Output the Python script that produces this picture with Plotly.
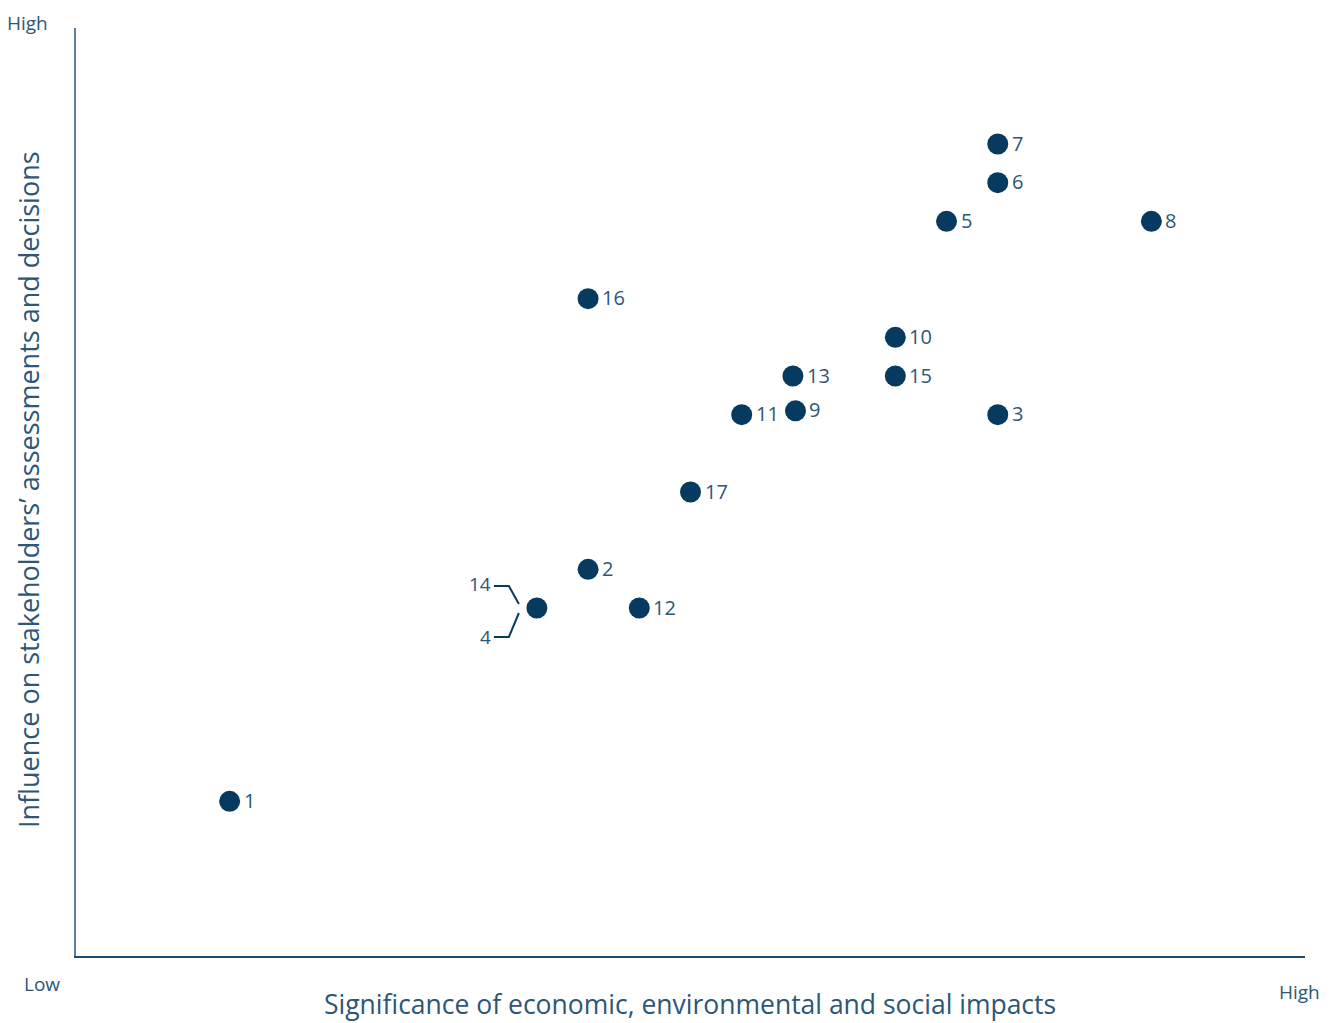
import plotly.graph_objects as go

# ---- data ----
labels = ["1", "2", "3", "4/14", "5", "6", "7", "8", "9", "10",
          "11", "12", "13", "15", "16", "17"]
significance = [3, 10, 18, 9, 17, 18, 18, 21, 14.05, 16,
                13, 11, 14, 16, 10, 12]
influence = [4, 10, 14, 9, 19, 20, 21, 19, 14.1, 16,
             14, 9, 15, 15, 17, 12]
point_text = ["1", "2", "3", "", "5", "6", "7", "8", "9", "10",
              "11", "12", "13", "15", "16", "17"]

x_range = [0, 24]
y_range = [0, 24]

x_title = "Significance of economic, environmental and social impacts"
y_title = "Influence on stakeholders’ assessments and decisions"

MARK = "#073a5f"
TXT = "#2d5677"
FONT = "Open Sans"

OFF = 8  # page body margin
W, H = 1321, 1015
ML, MR, MT, MB = 68, 24, 20, 67
pw, ph = W - ML - MR, H - MT - MB
sx = pw / (x_range[1] - x_range[0])
sy = ph / (y_range[1] - y_range[0])


def paper(page_x, page_y):
    return (page_x - OFF - ML) / pw, 1 - (page_y - OFF - MT) / ph


fig = go.Figure()
fig.add_trace(go.Scatter(
    x=significance, y=influence, mode="markers",
    marker=dict(size=21, color=MARK, line=dict(width=0)),
    hovertext=labels, hoverinfo="text", showlegend=False,
))

annotations = []
for x, y, t in zip(significance, influence, point_text):
    if not t:
        continue
    annotations.append(dict(
        x=x, y=y, xref="x", yref="y", text=t, showarrow=False,
        xanchor="left", yanchor="middle", xshift=12, yshift=1,
        font=dict(family=FONT, size=20, color=TXT)))

# bracket for the combined 14 / 4 point (pixel offsets from the point)
bx, by = significance[3], influence[3]


def px(dx, dy):
    return bx + dx / sx, by - dy / sy


top = [px(-43, -22), px(-28, -22), px(-18, -4)]
bot = [px(-43, 29), px(-28, 29), px(-18, 5)]
shapes = []
for seg in (top, bot):
    path = "M {} {} L {} {} L {} {}".format(seg[0][0], seg[0][1], seg[1][0], seg[1][1],
                                            seg[2][0], seg[2][1])
    shapes.append(dict(type="path", path=path, xref="x", yref="y",
                       line=dict(color=MARK, width=2)))
annotations.append(dict(x=top[0][0], y=top[0][1], xref="x", yref="y", text="14",
                        showarrow=False, xanchor="right", yanchor="middle", xshift=-1, yshift=2,
                        font=dict(family=FONT, size=19, color=TXT)))
annotations.append(dict(x=bot[0][0], y=bot[0][1], xref="x", yref="y", text="4",
                        showarrow=False, xanchor="right", yanchor="middle", xshift=-1, yshift=0,
                        font=dict(family=FONT, size=19, color=TXT)))

# corner labels
corner = [("High", 27, 9, "top"), ("Low", 42, 984, "middle"), ("High", 1299, 992, "middle")]
for t, cx, cy, ya in corner:
    ax, ay = paper(cx, cy)
    annotations.append(dict(x=ax, y=ay, xref="paper", yref="paper",
                            text=t, showarrow=False, xanchor="center", yanchor=ya, borderpad=0,
                            font=dict(family=FONT, size=19, color=TXT)))

# axis titles
ax, ay = paper(690, 1004)
annotations.append(dict(x=ax, y=ay, xref="paper", yref="paper", text=x_title,
                        showarrow=False, xanchor="center", yanchor="middle",
                        font=dict(family=FONT, size=26.5, color=TXT)))
ax, ay = paper(29, 490)
annotations.append(dict(x=ax, y=ay, xref="paper", yref="paper", text=y_title,
                        showarrow=False, xanchor="center", yanchor="middle", textangle=-90,
                        font=dict(family=FONT, size=27, color=TXT)))

fig.update_layout(
    width=W, height=H,
    margin=dict(l=ML, r=MR, t=MT, b=MB),
    plot_bgcolor="white", paper_bgcolor="white",
    annotations=annotations, shapes=shapes,
    xaxis=dict(range=x_range, showgrid=False, zeroline=False, showticklabels=False,
               ticks="", showline=True, linecolor="#1b4a6e", linewidth=2),
    yaxis=dict(range=y_range, showgrid=False, zeroline=False, showticklabels=False,
               ticks="", showline=True, linecolor="#5d819c", linewidth=2),
)

fig.write_html("out.html")
